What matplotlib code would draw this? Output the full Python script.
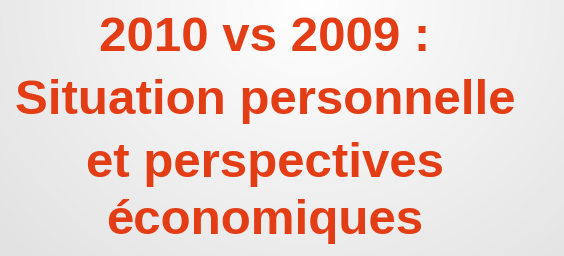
import numpy as np
import matplotlib
matplotlib.use("Agg")
import matplotlib.pyplot as plt

lines = ["2010 vs 2009 :", "Situation personnelle", "et perspectives", "économiques"]
baselines_px = [51, 114, 177, 234]
center_x_px = 265
text_color = "#E33D16"

W, H = 564, 256
fig = plt.figure(figsize=(W / 100, H / 100), dpi=100)
ax = fig.add_axes([0, 0, 1, 1])
ax.set_xlim(0, W)
ax.set_ylim(H, 0)
ax.axis("off")

# light gray background gradient (white at top centre, gray at the edges)
yy, xx = np.mgrid[0:H, 0:W]
d = np.sqrt(((xx - W * 0.55) / (W * 0.7)) ** 2 + ((yy - H * 0.0) / (H * 1.4)) ** 2)
val = 1.0 - 0.11 * np.clip(d, 0, 1)
bg = np.dstack([val, val, val])
ax.imshow(bg, extent=[0, W, H, 0], aspect="auto", zorder=0)

for txt, yb in zip(lines, baselines_px):
    ax.text(center_x_px, yb, txt, ha="center", va="baseline",
            fontsize=35.5, fontweight="bold", family="Liberation Sans",
            color=text_color, zorder=2)

fig.savefig("out.png", dpi=100)
